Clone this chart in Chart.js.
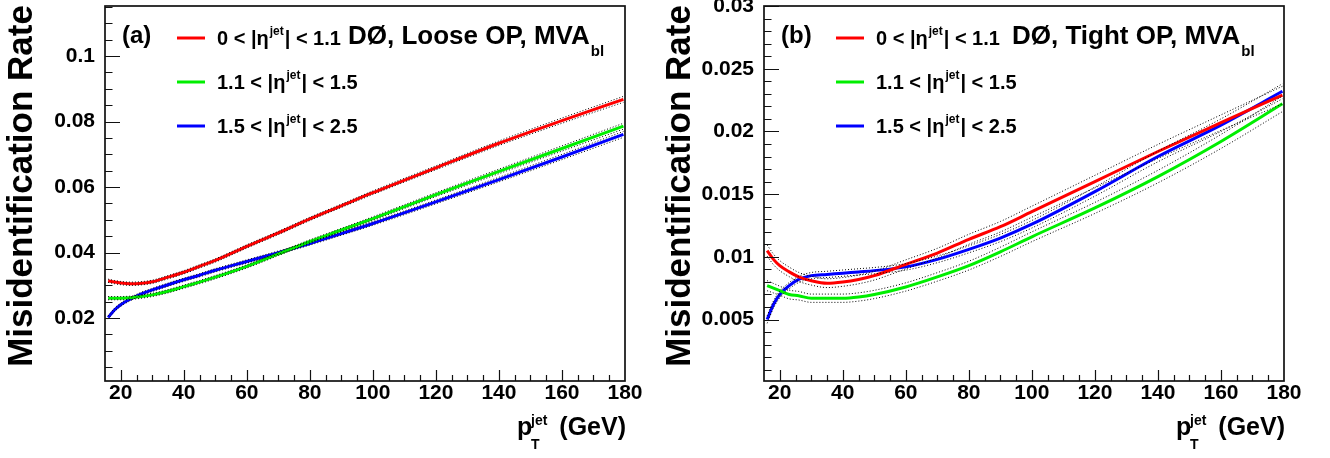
<!DOCTYPE html>
<html>
<head>
<title>Misidentification rate vs jet pT</title>
<script src="https://cdn.jsdelivr.net/npm/chart.js"></script>
<style>
  body { margin: 0; background: #fff; }
  .panel { position: absolute; top: 0; width: 665px; height: 458px; }
</style>
</head>
<body>
<div class="panel" style="left:0"><canvas id="loose" width="665" height="458"></canvas></div>
<div class="panel" style="left:665px"><canvas id="tight" width="665" height="458"></canvas></div>
<script>
// jet pT points (GeV) where the fitted curves are sampled
const ptJet = [16, 18, 20, 23, 26, 30, 35, 40, 45, 50, 60, 70, 80, 90, 100, 120, 140, 160, 179.5];

// |eta| ranges, one per curve
const etaRanges = [['0', '1.1'], ['1.1', '1.5'], ['1.5', '2.5']];
const colors = ['#ff0000', '#00ee00', '#0000ff'];

// (a) Loose OP
const looseCentral = [0.0314, 0.0310, 0.0307, 0.0305, 0.0306, 0.0311, 0.0325, 0.0340, 0.0358, 0.0376, 0.0419, 0.0460, 0.0503, 0.0543, 0.0583, 0.0659, 0.0734, 0.0803, 0.0868];
const looseMid     = [0.0261, 0.0261, 0.0261, 0.0262, 0.0265, 0.0271, 0.0282, 0.0296, 0.0310, 0.0325, 0.0358, 0.0396, 0.0434, 0.0469, 0.0504, 0.0577, 0.0648, 0.0718, 0.0786];
const looseFwd     = [0.0202, 0.0225, 0.0241, 0.0258, 0.0272, 0.0286, 0.0302, 0.0317, 0.0331, 0.0346, 0.0373, 0.0400, 0.0428, 0.0458, 0.0489, 0.0555, 0.0623, 0.0692, 0.0761];
const looseErr     = [0.0005, 0.0005, 0.0005, 0.0005, 0.0005, 0.0005, 0.0005, 0.0005, 0.0005, 0.0005, 0.0005, 0.0005, 0.0005, 0.0005, 0.00055, 0.0006, 0.0007, 0.0008, 0.0009];

// (b) Tight OP
const tightCentral = [0.0105, 0.0098, 0.0093, 0.0088, 0.0084, 0.0081, 0.0079, 0.0080, 0.0082, 0.0085, 0.0094, 0.0103, 0.0114, 0.0124, 0.0136, 0.0160, 0.0184, 0.0207, 0.0229];
const tightMid     = [0.0077, 0.0075, 0.0073, 0.0070, 0.0069, 0.0067, 0.0067, 0.0067, 0.0068, 0.0070, 0.0076, 0.0084, 0.0093, 0.0104, 0.0116, 0.0139, 0.0164, 0.0192, 0.0222];
const tightFwd     = [0.0050, 0.0062, 0.0070, 0.0077, 0.0082, 0.0085, 0.0086, 0.0087, 0.0088, 0.0089, 0.0092, 0.0098, 0.0106, 0.0115, 0.0126, 0.0152, 0.0180, 0.0205, 0.0232];
const tightCentralErr = [0.00045, 0.00042, 0.0004, 0.00038, 0.00036, 0.00035, 0.00035, 0.00035, 0.00035, 0.00035, 0.00036, 0.00038, 0.0004, 0.00042, 0.00044, 0.0005, 0.00056, 0.00062, 0.0007];
const tightMidErr     = [0.0004, 0.00038, 0.00036, 0.00035, 0.00034, 0.00033, 0.00033, 0.00033, 0.00033, 0.00033, 0.00033, 0.00034, 0.00035, 0.00037, 0.00039, 0.00044, 0.0005, 0.00056, 0.00062];
const tightFwdErr     = [0.0003, 0.00028, 0.00026, 0.00025, 0.00025, 0.00025, 0.00025, 0.00025, 0.00025, 0.00025, 0.00026, 0.00027, 0.00028, 0.00029, 0.0003, 0.00036, 0.00042, 0.0005, 0.0006];

const FONT = '"Liberation Sans", Arial, Helvetica, sans-serif';
Chart.defaults.font.family = FONT;
Chart.defaults.color = '#000';

function isMult(v, step) {
    return Math.abs(v / step - Math.round(v / step)) < 1e-6;
}

function points(ys, errs, sign) {
    return ptJet.map((x, i) => ({ x: x, y: ys[i] + (errs ? sign * errs[i] : 0) }));
}

// central curve plus dotted upper/lower band for each eta range
function buildDatasets(series, errs) {
    const out = [];
    series.forEach((ys, k) => {
        out.push({ data: points(ys), borderColor: colors[k], borderWidth: 3, order: 1 });
        [1, -1].forEach(sign => {
            out.push({ data: points(ys, errs[k], sign), borderColor: '#000', borderWidth: 1, borderDash: [1, 2], order: 0 });
        });
    });
    return out;
}

function text(ctx, str, x, y, size, align) {
    ctx.font = 'bold ' + size + 'px ' + FONT;
    ctx.textAlign = align || 'left';
    ctx.textBaseline = 'alphabetic';
    ctx.fillText(str, x, y);
    return ctx.measureText(str).width;
}

// frame, inward ticks, axis titles and legend in ROOT style
const rootStyle = {
    id: 'rootStyle',
    afterDatasetsDraw(chart, args, opts) {
        const { ctx, chartArea: a, scales: { x, y } } = chart;
        ctx.save();
        ctx.strokeStyle = '#111';
        ctx.lineWidth = 1.2;
        ctx.beginPath();
        x.ticks.forEach(t => {
            if (t.value <= x.min || t.value >= x.max) return;
            const px = Math.round(x.getPixelForValue(t.value)) + 0.5;
            const len = isMult(t.value, 20) ? 11 : 6;
            ctx.moveTo(px, a.bottom);
            ctx.lineTo(px, a.bottom - len);
        });
        y.ticks.forEach(t => {
            if (t.value <= y.min || t.value > y.max) return;
            const py = Math.round(y.getPixelForValue(t.value)) + 0.5;
            const len = isMult(t.value, opts.yMajor) ? 15 : 7.5;
            ctx.moveTo(a.left, py);
            ctx.lineTo(a.left + len, py);
        });
        ctx.stroke();
        ctx.lineWidth = 1.7;
        ctx.strokeRect(a.left, a.top, a.right - a.left, a.bottom - a.top);
        ctx.restore();
    },
    afterDraw(chart, args, opts) {
        const { ctx, chartArea: a } = chart;
        ctx.save();
        ctx.fillStyle = '#000';

        // y axis title
        ctx.save();
        ctx.translate(opts.titleX, 186);
        ctx.rotate(-Math.PI / 2);
        ctx.font = 'bold 35px ' + FONT;
        ctx.textAlign = 'center';
        ctx.textBaseline = 'middle';
        ctx.fillText('Misidentification Rate', 0, 0);
        ctx.restore();

        // x axis title: p_T^jet (GeV)
        text(ctx, '(GeV)', a.right + 1, 435, 25, 'right');
        text(ctx, 'p', a.right - 108, 435, 25);
        text(ctx, 'jet', a.right - 94, 425, 14);
        text(ctx, 'T', a.right - 94, 449, 14);

        // panel tag and header
        text(ctx, opts.tag, a.left + 17, 43, 24);
        const hw = text(ctx, opts.header, a.left + opts.headerX, 44, 26);
        text(ctx, 'bl', a.left + opts.headerX + hw + 1, 56, 15);

        // legend
        etaRanges.forEach((r, k) => {
            const ly = 38 + k * 44;
            ctx.strokeStyle = colors[k];
            ctx.lineWidth = 3;
            ctx.beginPath();
            ctx.moveTo(a.left + 72, ly);
            ctx.lineTo(a.left + 100, ly);
            ctx.stroke();
            let tx = a.left + 112;
            tx += text(ctx, r[0] + ' < |η', tx, ly + 7, 20);
            const jw = text(ctx, 'jet', tx + 1, ly - 3, 12);
            tx += jw + 2;
            text(ctx, '| < ' + r[1], tx, ly + 7, 20);
        });
        ctx.restore();
    }
};

function makeChart(id, series, errs, yScale, panel) {
    const fmt = v => isMult(v, yScale.major) ? String(Number(v.toFixed(4))) : '';
    return new Chart(document.getElementById(id), {
        type: 'line',
        data: { datasets: buildDatasets(series, errs) },
        plugins: [rootStyle],
        options: {
            responsive: false,
            animation: false,
            devicePixelRatio: 1,
            layout: { padding: { top: 6, right: 665 - panel.frameRight, bottom: 0, left: 0 } },
            elements: {
                point: { radius: 0 },
                line: { cubicInterpolationMode: 'monotone', fill: false }
            },
            plugins: {
                legend: { display: false },
                tooltip: { enabled: false },
                rootStyle: {
                    yMajor: yScale.major,
                    titleX: panel.titleX,
                    tag: panel.tag,
                    header: panel.header,
                    headerX: panel.headerX
                }
            },
            scales: {
                x: {
                    type: 'linear',
                    min: 15,
                    max: 180,
                    grid: { display: false, drawTicks: false },
                    border: { display: false },
                    ticks: {
                        stepSize: 5,
                        autoSkip: false,
                        maxRotation: 0,
                        padding: 0,
                        font: { size: 21, weight: 'bold' },
                        callback: v => isMult(v, 20) ? String(v) : ''
                    },
                    afterFit(s) {
                        s.height = 458 - 381;
                        s.paddingLeft = s.paddingRight = s.paddingTop = s.paddingBottom = 0;
                    }
                },
                y: {
                    type: 'linear',
                    min: yScale.min,
                    max: yScale.max,
                    grid: { display: false, drawTicks: false },
                    border: { display: false },
                    ticks: {
                        stepSize: yScale.minor,
                        includeBounds: false,
                        autoSkip: false,
                        padding: 10,
                        font: { size: 21, weight: 'bold' },
                        callback: fmt
                    },
                    afterFit(s) {
                        s.width = panel.frameLeft;
                        s.paddingLeft = s.paddingRight = s.paddingTop = s.paddingBottom = 0;
                    }
                }
            }
        }
    });
}

makeChart('loose', [looseCentral, looseMid, looseFwd], [looseErr, looseErr, looseErr],
    { min: 0.0008, max: 0.1153, major: 0.02, minor: 0.005 },
    { frameLeft: 105, frameRight: 625, titleX: 22, tag: '(a)', header: 'DØ, Loose OP, MVA', headerX: 243 });

makeChart('tight', [tightCentral, tightMid, tightFwd], [tightCentralErr, tightMidErr, tightFwdErr],
    { min: 0.0001, max: 0.03, major: 0.005, minor: 0.001 },
    { frameLeft: 99, frameRight: 619, titleX: 15.5, tag: '(b)', header: 'DØ, Tight OP, MVA', headerX: 248 });
</script>
</body>
</html>
